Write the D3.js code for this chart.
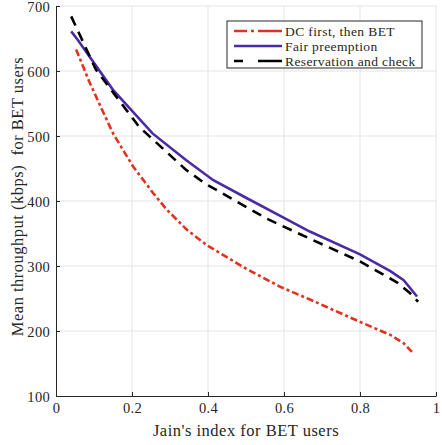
<!DOCTYPE html>
<html>
<head>
<meta charset="utf-8">
<script src="https://cdn.jsdelivr.net/npm/d3@7"></script>
<style>
  body { margin: 0; background: #fff; }
  svg text { font-family: "Liberation Serif", "DejaVu Serif", serif; fill: #262626; }
</style>
</head>
<body>
<svg id="chart" width="442" height="445"></svg>
<script>
// values
const xTicks = [0, 0.2, 0.4, 0.6, 0.8, 1];
const yTicks = [100, 200, 300, 400, 500, 600, 700];

const dcX = [0.053, 0.088, 0.12, 0.151, 0.203, 0.256, 0.291, 0.344, 0.397, 0.454, 0.5, 0.59, 0.67, 0.8, 0.88, 0.915, 0.94];
const dcY = [633, 583, 542, 503, 453, 412, 387, 356, 332, 312, 296, 268, 248, 214, 194, 181, 166];

const fairX = [0.04, 0.057, 0.15, 0.254, 0.342, 0.414, 0.5, 0.6, 0.668, 0.8, 0.88, 0.915, 0.95];
const fairY = [661, 648, 571, 504, 463, 432, 405, 374, 353, 318, 292, 278, 253];

const resX = [0.04, 0.105, 0.219, 0.342, 0.392, 0.554, 0.668, 0.8, 0.897, 0.932, 0.953];
const resY = [684, 602, 514, 448, 427, 373, 342, 307, 275, 258, 245];

const seriesNames = ['DC first, then BET', 'Fair preemption', 'Reservation and check'];

const series = [
    { name: seriesNames[0], xs: dcX, ys: dcY, color: '#e4311d', dash: '7,3,3,3', legendDash: '13,4,3,4,30' },
    { name: seriesNames[1], xs: fairX, ys: fairY, color: '#4a2ba3', dash: null, legendDash: null },
    { name: seriesNames[2], xs: resX, ys: resY, color: '#000000', dash: '10,7', legendDash: '9,15,30' }
];

const svg = d3.select('#chart');
const margin = { left: 56, right: 6, top: 6, bottom: 49 };
const width = 442, height = 445;

const x = d3.scaleLinear().domain([0, 1]).range([margin.left, width - margin.right]);
const y = d3.scaleLinear().domain([100, 700]).range([height - margin.bottom, margin.top]);

// grid
svg.append('g').selectAll('line.vg')
    .data(xTicks.slice(1))
    .enter().append('line')
    .attr('x1', d => x(d)).attr('x2', d => x(d))
    .attr('y1', y(100)).attr('y2', y(700))
    .attr('stroke', '#e3e3e3').attr('stroke-width', 1);

svg.append('g').selectAll('line.hg')
    .data(yTicks.slice(1))
    .enter().append('line')
    .attr('x1', x(0)).attr('x2', x(1))
    .attr('y1', d => y(d)).attr('y2', d => y(d))
    .attr('stroke', '#e3e3e3').attr('stroke-width', 1);

// axes, ticks pointing inward
const xAxis = svg.append('g')
    .attr('transform', `translate(0,${y(100)})`)
    .call(d3.axisBottom(x).tickValues(xTicks).tickFormat(d3.format('')).tickSizeInner(-4).tickSizeOuter(0).tickPadding(8));
const yAxis = svg.append('g')
    .attr('transform', `translate(${x(0)},0)`)
    .call(d3.axisLeft(y).tickValues(yTicks).tickSizeInner(-4).tickSizeOuter(0).tickPadding(6));

[xAxis, yAxis].forEach(ax => {
    ax.select('.domain').attr('stroke', '#262626').attr('stroke-width', 1);
    ax.selectAll('.tick line').attr('stroke', '#262626');
    ax.selectAll('.tick text')
        .attr('font-family', '"Liberation Serif", serif')
        .attr('font-size', 14.5)
        .attr('letter-spacing', 0.3)
        .attr('fill', '#262626');
});
yAxis.selectAll('.tick text').attr('dy', '0.4em');
xAxis.selectAll('.tick text').attr('dy', '0.65em');

// lines
const line = d3.line().x(d => x(d[0])).y(d => y(d[1]));
series.forEach(s => {
    svg.append('path')
        .datum(s.xs.map((v, i) => [v, s.ys[i]]))
        .attr('d', line)
        .attr('fill', 'none')
        .attr('stroke', s.color)
        .attr('stroke-width', 2.6)
        .attr('stroke-dasharray', s.dash);
});

// axis labels
svg.append('text')
    .attr('x', x(0.5)).attr('y', 436)
    .attr('text-anchor', 'middle')
    .attr('font-size', 16.5)
    .attr('letter-spacing', 0.5)
    .text("Jain's index for BET users");

svg.append('text')
    .attr('transform', `translate(17,${y(407)}) rotate(-90)`)
    .attr('text-anchor', 'middle')
    .attr('font-size', 16.5)
    .attr('letter-spacing', 0.5)
    .attr('dy', '0.35em')
    .text('Mean throughput (kbps)\u00a0 for BET users');

// legend
const legend = svg.append('g').attr('transform', 'translate(227,21)');
legend.append('rect')
    .attr('width', 195).attr('height', 47)
    .attr('fill', '#fff').attr('stroke', '#262626').attr('stroke-width', 1);
series.forEach((s, i) => {
    const ly = 10 + i * 15;
    legend.append('line')
        .attr('x1', 7).attr('x2', 55)
        .attr('y1', ly).attr('y2', ly)
        .attr('stroke', s.color).attr('stroke-width', 2.6)
        .attr('stroke-dasharray', s.legendDash);
    legend.append('text')
        .attr('x', 58).attr('y', ly)
        .attr('dy', '0.35em')
        .attr('font-size', 13.5)
        .attr('letter-spacing', 0.4)
        .text(s.name);
});
</script>
</body>
</html>
